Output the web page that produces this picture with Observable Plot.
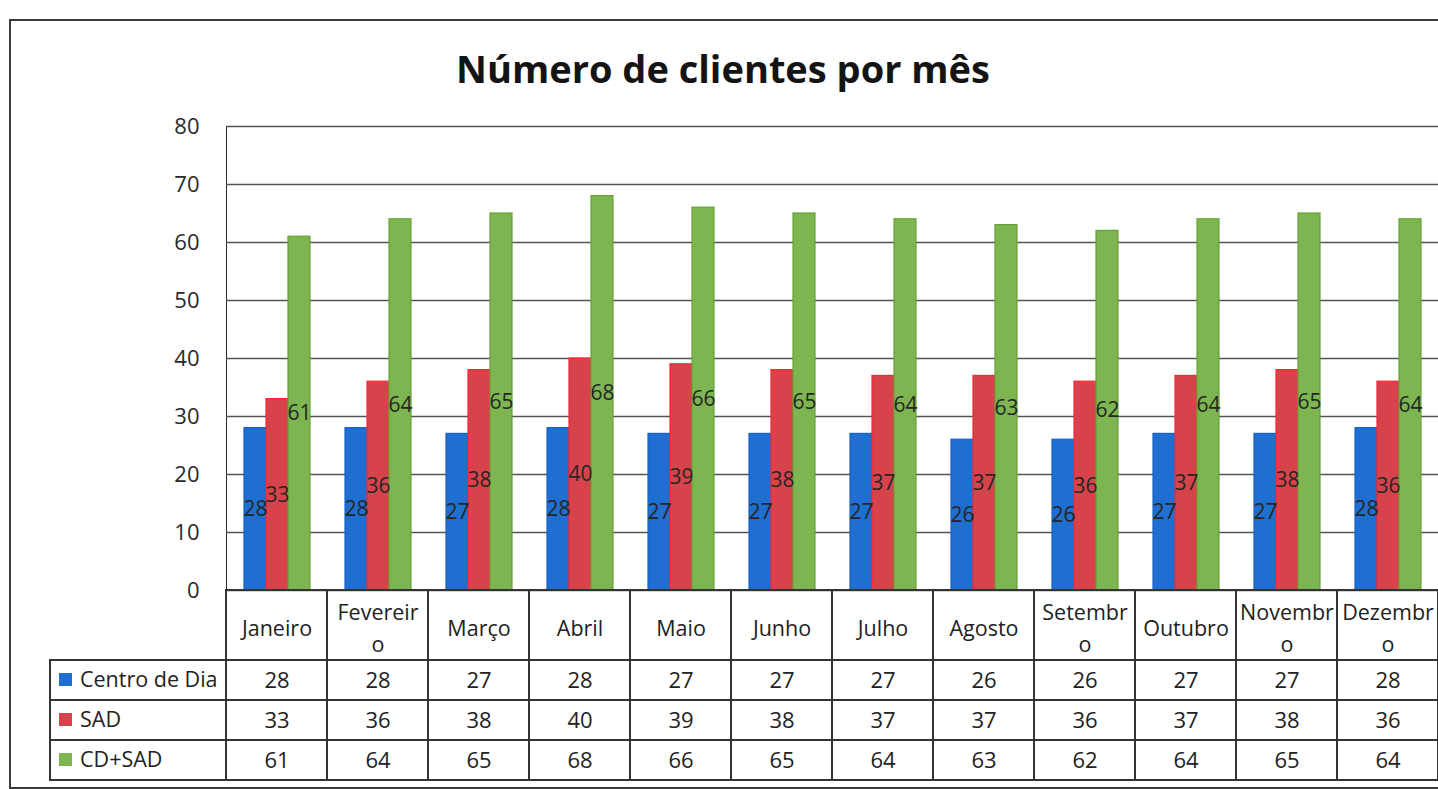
<!DOCTYPE html>
<html>
<head>
<meta charset="utf-8">
<script src="https://cdn.jsdelivr.net/npm/d3@7"></script>
<script src="https://cdn.jsdelivr.net/npm/@observablehq/plot@0.6"></script>
<style>
  html, body { margin: 0; padding: 0; background: #fff; }
  #wrap { position: relative; width: 1438px; height: 789px; overflow: hidden; background: #fff; font-family: 'Open Sans', sans-serif; }
  #border { position: absolute; left: 9px; top: 19px; width: 1500px; height: 766px; border: 2px solid #3a3a3a; }
  #title { position: absolute; left: 0; width: 1446px; top: 49px; text-align: center; font-size: 38px; font-weight: 700; line-height: 1; color: #141414; }
  #chart { position: absolute; left: 0; top: 100px; }
  #table { position: absolute; left: 0; top: 589px; }
  #legend { position: absolute; left: 49px; top: 659px; width: 176px; height: 122px; box-sizing: border-box; border: 2px solid #333; border-right: none; }
  .lrow { position: absolute; left: 0; width: 176px; height: 40px; box-sizing: border-box; font-size: 21.5px; color: #222; }
  .lrow .sw { position: absolute; left: 8px; top: 13px; width: 13px; height: 13px; }
  .lrow .lt { position: absolute; left: 29px; top: 5px; line-height: 28px; white-space: nowrap; }
  .sep { position: absolute; left: 0; width: 176px; height: 2px; background: #333; }
</style>
</head>
<body>
<div id="wrap">
  <div id="border"></div>
  <div id="title">Número de clientes por mês</div>
  <div id="chart"></div>
  <div id="table"></div>
  <div id="legend"></div>
</div>
<script>
// ---- data ----
const months = ["Janeiro","Fevereiro","Março","Abril","Maio","Junho","Julho","Agosto","Setembro","Outubro","Novembro","Dezembro"];
const monthLabels = ["Janeiro","Fevereir\no","Março","Abril","Maio","Junho","Julho","Agosto","Setembr\no","Outubro","Novembr\no","Dezembr\no"];
const seriesNames = ["Centro de Dia","SAD","CD+SAD"];
const centroDia = [28,28,27,28,27,27,27,26,26,27,27,28];
const sad       = [33,36,38,40,39,38,37,37,36,37,38,36];
const cdSad     = [61,64,65,68,66,65,64,63,62,64,65,64];
const yTicks = [0,10,20,30,40,50,60,70,80];

// ---- styles ----
const fills   = ["#1f6fd2","#d6434b","#7db650"];
const strokes = ["#1a63c4","#ff2433","#66a236"];
const font = "'Open Sans', sans-serif";

const seriesValues = [centroDia, sad, cdSad];
const rows = months.flatMap((m, i) => seriesNames.map((s, j) => ({month: m, series: s, si: j, mi: i, value: seriesValues[j][i]})));

const chart = Plot.plot({
  width: 1438, height: 492,
  marginTop: 26, marginBottom: 2, marginLeft: 225, marginRight: 0,
  style: {fontFamily: font, fontSize: "22px", color: "#2a2a2a", background: "transparent", overflow: "visible"},
  facet: {data: rows, x: "month"},
  fx: {domain: months, padding: 0, axis: null, label: null},
  x: {domain: seriesNames, paddingInner: 0, paddingOuter: 0.75, axis: null},
  y: {domain: [0, 80], ticks: yTicks, tickSize: 0, tickPadding: 27, line: true, label: null},
  marks: [
    Plot.ruleY(yTicks, {stroke: "#545454", strokeWidth: 1.5}),
    ...seriesNames.map((s, j) => Plot.barY(rows, {
      filter: d => d.series === s, x: "series", y: "value",
      fill: fills[j], stroke: strokes[j], strokeWidth: 1.2
    })),
    Plot.text(rows, {x: "series", y: d => d.value / 2, text: d => String(d.value), fill: "#262626", fontSize: 21})
  ]
});
document.getElementById("chart").appendChild(chart);

// ---- data table ----
const HEADER = 1.75;
const table = Plot.plot({
  width: 1438, height: 193,
  marginTop: 0, marginBottom: 0, marginLeft: 225, marginRight: 0,
  style: {fontFamily: font, fontSize: "22px", color: "#222", background: "transparent", overflow: "visible"},
  x: {domain: months, padding: 0, axis: null},
  y: {domain: [0, HEADER + seriesNames.length], range: [1, 191], axis: null},
  marks: [
    Plot.barY(months, {x: d => d, y1: 0, y2: HEADER, fill: "none", stroke: "#333", strokeWidth: 2}),
    Plot.barY(rows, {x: "month", y1: d => HEADER + d.si, y2: d => HEADER + d.si + 1, fill: "none", stroke: "#333", strokeWidth: 2}),
    Plot.text(months, {x: d => d, y: HEADER / 2, text: (d, i) => monthLabels[i], lineHeight: 1.5, fill: "#222", fontSize: 21.5}),
    Plot.text(rows, {x: "month", y: d => HEADER + d.si + 0.5, text: d => String(d.value), fill: "#222", fontSize: 22})
  ]
});
document.getElementById("table").appendChild(table);

// ---- legend column of the table ----
const legend = document.getElementById("legend");
seriesNames.forEach((s, j) => {
  const r = document.createElement("div");
  r.className = "lrow";
  r.style.top = (j * 40 - 1) + "px";
  r.innerHTML = `<span class="sw" style="background:${fills[j]}"></span><span class="lt">${s}</span>`;
  legend.appendChild(r);
  if (j > 0) {
    const sep = document.createElement("div");
    sep.className = "sep";
    sep.style.top = (j * 40 - 2) + "px";
    legend.appendChild(sep);
  }
});
</script>
</body>
</html>
